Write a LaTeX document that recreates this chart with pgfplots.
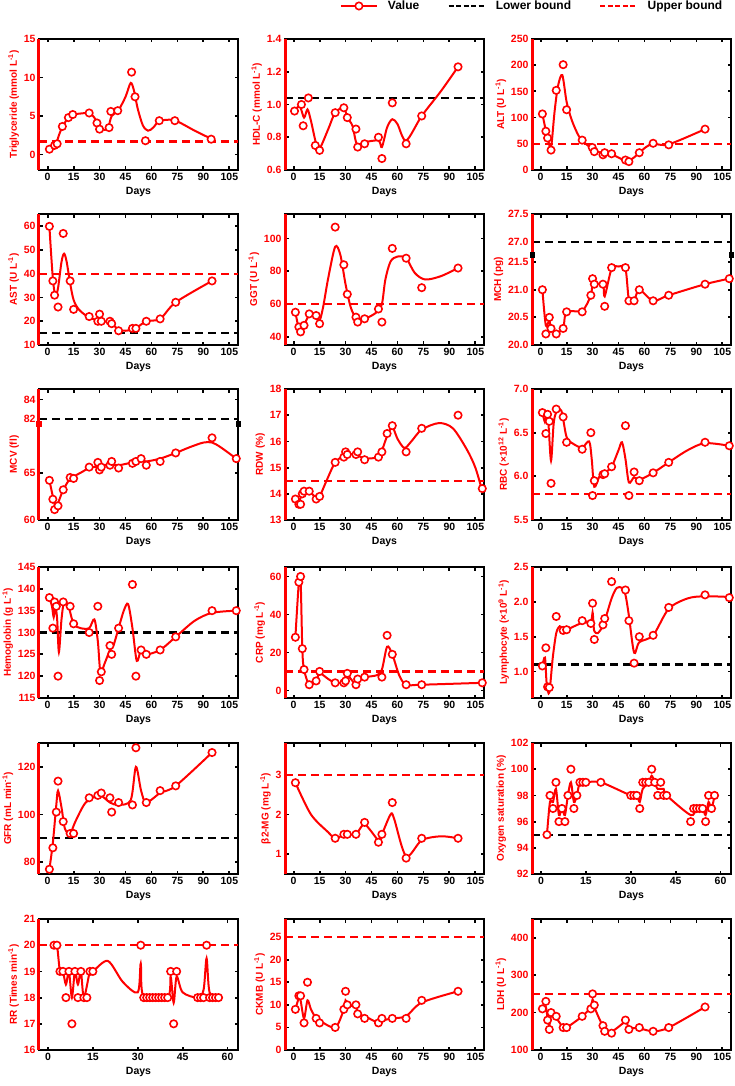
\documentclass[border=0pt]{standalone}
\usepackage{pgfplots}
\pgfplotsset{compat=1.18}
\usepackage{fontspec}
\setmainfont{Liberation Sans}
\newcommand\redspine{\draw[red, line width=3pt] (rel axis cs:0,0) -- (rel axis cs:0,1);}
\pgfplotsset{
  panel/.style={scale only axis, width=199pt, height=131pt, anchor=north west, clip=false,
    xmin=-5, xmax=110, xtick={0,15,30,45,60,75,90,105}, xticklabels={0,15,30,45,60,75,90,105},
    tick align=inside, major tick length=3.5pt,
    every tick/.style={black, line width=1.8pt},
    axis line style={black, line width=2pt},
    tick label style={font=\bfseries\fontsize{10.5}{12}\selectfont},
    yticklabel style={red}, xticklabel style={black},
    xlabel={Days}, xlabel style={font=\bfseries\fontsize{10.5}{12}\selectfont, black, yshift=1pt},
    ylabel style={font=\bfseries\fontsize{10}{12}\selectfont, red, yshift=-2pt},
  },
  val/.style={red, line width=2pt, smooth, no markers},
  pts/.style={red, only marks, mark=*, mark size=3.7pt, mark options={line width=1.6pt, fill=white, draw=red, solid}},
  lowb/.style={black, line width=2.2pt, dash pattern=on 8pt off 5pt, no markers},
  upb/.style={red, line width=2.2pt, dash pattern=on 8pt off 5pt, no markers},
}
\begin{document}
\begin{tikzpicture}
% ---------- Row 1 ----------
\begin{axis}[panel, at={(39pt,-39pt)}, ymin=-2, ymax=15, ytick={0,5,10,15}, yticklabels={0,5,10,15},
  ylabel={Triglyceride (mmol L\textsuperscript{-1})}]
\addplot[upb] coordinates {(-5,1.7) (110,1.7)};
\addplot[val] coordinates {(1,0.7) (3,1.0) (5,1.5) (6.5,2.5) (8.5,3.6) (12,4.8) (15,5.2) (20,5.35) (24,5.4) (27,4.8) (30,3.5) (33,3.2) (35,3.5) (37,5.0) (41,5.8) (45,7.5) (48,9.3) (50,8.2) (52,6) (55,3.8) (58,3.1) (61,3.5) (64,4.3) (68,4.5) (74,4.4) (85,3.1) (95,2.0)};
\addplot[pts] coordinates {(1,0.7) (4,1.2) (5.5,1.4) (8.5,3.65) (12,4.8) (14.5,5.2) (24,5.4) (28.5,4.1) (30,3.3) (35.5,3.5) (36.5,5.6) (40.5,5.7) (48.5,10.7) (50.5,7.5) (56.5,1.8) (64.5,4.4) (73.5,4.4) (94.5,2.0)};
\redspine
\end{axis}

\begin{axis}[panel, at={(285pt,-39pt)}, ymin=0.6, ymax=1.4, ytick={0.6,0.8,1.0,1.2,1.4}, yticklabels={0.6,0.8,1.0,1.2,1.4},
  ylabel={HDL-C (mmol L\textsuperscript{-1})},
  legend style={at={(0.26,1.252)}, anchor=west, draw=none, fill=none, font=\bfseries\fontsize{12}{14}\selectfont, legend columns=3,
    /tikz/every odd column/.append style={column sep=8pt},
    /tikz/every even column/.append style={column sep=26pt}},
  legend image code/.code={\draw[mark repeat=2,mark phase=2] plot coordinates {(0pt,0pt) (18pt,0pt) (36pt,0pt)};}]
\addlegendimage{red, line width=2pt, mark=*, mark size=3.7pt, mark options={line width=1.6pt, fill=white, draw=red}}
\addlegendentry{Value}
\addlegendimage{black, line width=2.5pt, dash pattern=on 5pt off 2.5pt}
\addlegendentry{Lower bound}
\addlegendimage{red, line width=2.5pt, dash pattern=on 5pt off 2.5pt}
\addlegendentry{Upper bound}
\addplot[lowb, forget plot] coordinates {(-5,1.04) (110,1.04)};
\addplot[val, forget plot] coordinates {(0.5,0.96) (3.5,0.99) (6,0.92) (8,0.97) (10,0.9) (13,0.76) (15,0.73) (20,0.85) (24,0.95) (29,0.98) (31,0.92) (34,0.87) (36.5,0.76) (41,0.77) (49,0.78) (51,0.74) (54,0.86) (57,0.91) (60,0.88) (65,0.78) (74,0.93) (85,1.08) (95,1.23)};
\addplot[pts, forget plot] coordinates {(0.5,0.96) (4.5,1.0) (5.5,0.87) (8.5,1.04) (12.5,0.75) (15,0.72) (24,0.95) (29,0.98) (31,0.92) (36,0.85) (37,0.74) (41,0.76) (49,0.80) (51,0.67) (57,1.01) (65,0.76) (74,0.93) (95,1.23)};
\redspine
\end{axis}

\begin{axis}[panel, at={(532pt,-39pt)}, ymin=0, ymax=250, ytick={0,50,100,150,200,250}, yticklabels={0,50,100,150,200,250},
  ylabel={ALT (U L\textsuperscript{-1})}]
\addplot[upb] coordinates {(-5,50) (110,50)};
\addplot[val] coordinates {(1,107) (3,75) (4.5,55) (6,42) (8,110) (10,160) (12.5,181) (15,130) (18,95) (22,65) (26,50) (29,43) (33,35) (37,31) (41,30) (46,22) (49,18) (51,18) (54,24) (57,33) (61,44) (65,50) (74,49) (95,78)};
\addplot[pts] coordinates {(1,107) (3,74) (4,61) (6,38) (9,152) (13,201) (15,115) (24,57) (29.8,43) (31,35) (36,29) (37,33) (41,31) (49,19) (51,16) (57,33) (65,51) (74,48) (95,78)};
\redspine
\end{axis}

% ---------- Row 2 ----------
\begin{axis}[panel, at={(39pt,-214pt)}, ymin=10, ymax=65.2, ytick={10,20,30,40,50,60}, yticklabels={10,20,30,40,50,60},
  ylabel={AST (U L\textsuperscript{-1})}]
\addplot[lowb] coordinates {(-5,15) (110,15)};
\addplot[upb] coordinates {(-5,40) (110,40)};
\addplot[val] coordinates {(1,60) (3,38) (4.5,31) (6,34) (8,45) (9.5,48.5) (11,45) (13,36) (15,29) (18,25) (23,22) (28,20.5) (31,20) (36,19.5) (41,16.5) (45,16) (49,16.5) (51,17) (57,20) (65,21) (74,28) (95,37)};
\addplot[pts] coordinates {(1,60) (3,37) (4,31) (6,26) (9,57) (13,37) (15,25) (24,22) (29,20) (30,23) (31,20) (36,20) (37,19) (41,16) (49,17) (51,17) (57,20) (65,21) (74,28) (95,37)};
\redspine
\end{axis}

\begin{axis}[panel, at={(285pt,-214pt)}, ymin=35, ymax=115, ytick={40,60,80,100}, yticklabels={40,60,80,100},
  ylabel={GGT (U L\textsuperscript{-1})}]
\addplot[upb] coordinates {(-5,60) (110,60)};
\addplot[val] coordinates {(1,55) (3,45) (4.5,44) (6,47) (9,53) (13,52) (15,50) (17,58) (20,76) (24,95) (27,90) (30,72) (33,58) (36,52) (41,51) (48,55) (51,60) (53,75) (56,86) (60,89) (65,88) (70,79) (76,75) (85,77) (95,82)};
\addplot[pts] coordinates {(1,55) (3,46) (4,43) (6,47) (9,54) (13,53) (15,48) (24,107) (29,84) (31,66) (36,52) (37,49) (41,51) (49,57) (51,49) (57,94) (65,88) (74,70) (95,82)};
\redspine
\end{axis}

\begin{axis}[panel, at={(532pt,-214pt)}, ymin=20, ymax=22.37, ytick={20,20.5,21,21.5,21.87,22.37}, yticklabels={20.0,20.5,21.0,21.5,27.0,27.5},
  ylabel={MCH (pg)}]
\addplot[lowb] coordinates {(-5,21.87) (110,21.87)};
\addplot[val] coordinates {(1,21.0) (3,20.35) (5,20.45) (6,20.3) (9,20.22) (13,20.3) (15,20.6) (24,20.62) (29,20.9) (30,21.15) (31,21.1) (36,21.1) (37,20.88) (41,21.38) (45,21.42) (49,21.38) (51,20.82) (54,20.8) (57,21.0) (65,20.8) (74,20.9) (95,21.1) (109,21.2)};
\addplot[pts] coordinates {(1,21.0) (3,20.2) (5,20.5) (6,20.3) (9,20.2) (13,20.3) (15,20.6) (24,20.6) (29,20.9) (30,21.2) (31,21.1) (36,21.1) (37,20.7) (41,21.4) (49,21.4) (51,20.8) (54,20.8) (57,21.0) (65,20.8) (74,20.9) (95,21.1) (109,21.2)};
\redspine
\fill[black] (rel axis cs:0,0.688) +(-2.5pt,-3pt) rectangle +(2.5pt,3pt);
\fill[black] (rel axis cs:1,0.688) +(-2.5pt,-3pt) rectangle +(2.5pt,3pt);
\end{axis}

% ---------- Row 3 ----------
\begin{axis}[panel, at={(39pt,-389pt)}, ymin=60, ymax=73.87, ytick={60,65,70.7,72.75}, yticklabels={60,65,82,84},
  ylabel={MCV (fl)}]
\addplot[lowb] coordinates {(-5,70.7) (110,70.7)};
\addplot[val] coordinates {(1,64.2) (3,62.5) (4.5,61.4) (6,61.8) (9,63.2) (13,64.4) (15,64.6) (20,65.1) (24,65.5) (30,65.7) (36,65.9) (41,65.8) (49,66.1) (54,66.3) (57,66.2) (65,66.5) (74,67.1) (82,67.7) (90,68.2) (95,68.2) (100,67.7) (109,66.5)};
\addplot[pts] coordinates {(1,64.2) (3,62.2) (4,61.1) (6,61.5) (9,63.2) (13,64.5) (15,64.4) (24,65.6) (29,66.1) (30,65.3) (31,65.6) (36,65.8) (37,66.2) (41,65.5) (49,66.0) (51,66.2) (54,66.5) (57,65.8) (65,66.2) (74,67.1) (95,68.7) (109,66.5)};
\redspine
\fill[red] (rel axis cs:0,0.736) +(-3pt,-3pt) rectangle +(3pt,3pt);
\fill[black] (rel axis cs:1,0.736) +(-2.5pt,-3pt) rectangle +(2.5pt,3pt);
\end{axis}

\begin{axis}[panel, at={(285pt,-389pt)}, ymin=13, ymax=18, ytick={13,14,15,16,17,18}, yticklabels={13,14,15,16,17,18},
  ylabel={RDW (\%)}]
\addplot[upb] coordinates {(-5,14.5) (110,14.5)};
\addplot[val] coordinates {(1,13.8) (3,13.7) (5,14.0) (7,14.1) (9,14.1) (13,13.85) (15,13.9) (19,14.5) (24,15.2) (29,15.45) (31,15.5) (36,15.5) (41,15.35) (49,15.4) (51,15.65) (54,16.2) (57,16.55) (60,16.1) (64,15.75) (68,16.0) (74,16.45) (84,16.7) (92,16.5) (100,15.7) (105,15.0) (109,14.1)};
\addplot[pts] coordinates {(1,13.8) (3,13.6) (4,13.6) (5,14.0) (6,14.1) (9,14.1) (13,13.8) (15,13.9) (24,15.2) (29,15.4) (30,15.6) (31,15.5) (36,15.5) (37,15.6) (41,15.3) (49,15.4) (51,15.6) (54,16.3) (57,16.6) (65,15.6) (74,16.5) (95,17.0) (109,14.2)};
\redspine
\end{axis}

\begin{axis}[panel, at={(532pt,-389pt)}, ymin=5.5, ymax=7.0, ytick={5.5,6.0,6.5,7.0}, yticklabels={5.5,6.0,6.5,7.0},
  ylabel={RBC (×10\textsuperscript{12} L\textsuperscript{-1})}]
\addplot[upb] coordinates {(-5,5.8) (110,5.8)};
\addplot[val] coordinates {(1,6.73) (2.5,6.62) (3.5,6.7) (4.5,6.6) (6,6.18) (7.5,6.6) (9,6.73) (12,6.75) (15,6.45) (19,6.37) (24,6.33) (28,6.4) (29.5,6.2) (31,5.88) (34,6.0) (37,6.04) (41,6.11) (45,6.3) (47,6.39) (49,6.2) (51,5.93) (54,5.99) (57,5.96) (65,6.04) (74,6.16) (85,6.3) (95,6.38) (109,6.35)};
\addplot[pts] coordinates {(1,6.73) (3,6.49) (4,6.71) (5,6.63) (6,5.92) (9,6.77) (13,6.68) (15,6.39) (24,6.31) (29,6.5) (30,5.78) (31,5.95) (36,6.02) (37,6.03) (41,6.11) (49,6.58) (51,5.78) (54,6.05) (57,5.95) (65,6.04) (74,6.16) (95,6.39) (109,6.35)};
\redspine
\end{axis}

% ---------- Row 4 ----------
\begin{axis}[panel, at={(39pt,-567pt)}, ymin=115, ymax=145, ytick={115,120,...,145}, yticklabels={115,120,125,130,135,140,145},
  ylabel={Hemoglobin (g L\textsuperscript{-1})}]
\addplot[lowb] coordinates {(-5,130) (110,130)};
\addplot[val] coordinates {(1,138) (2.5,136) (3.5,133.5) (4.5,136) (5.5,133) (6.5,125.5) (8,133) (9.5,137) (12,136) (15,132) (19,131) (24,131) (27,133) (29,128) (30.5,121) (33,123) (36,126) (38,127) (41,131) (44,135) (46.5,136.5) (49,131) (51.5,123.5) (54,126) (57,125) (65,126) (74,129) (85,132.7) (95,134.5) (109,135)};
\addplot[pts] coordinates {(1,138) (3,131) (4,137) (5,136) (6,120) (9,137) (13,136) (15,132) (24,130) (29,136) (30,119) (31,121) (36,127) (37,125) (41,131) (49,141) (51,120) (54,126) (57,125) (65,126) (74,129) (95,135) (109,135)};
\redspine
\end{axis}

\begin{axis}[panel, at={(285pt,-567pt)}, ymin=-4, ymax=65, ytick={0,20,40,60}, yticklabels={0,20,40,60},
  ylabel={CRP (mg L\textsuperscript{-1})}]
\addplot[upb] coordinates {(-5,10) (110,10)};
\addplot[val] coordinates {(1,28) (3,57) (4,59) (5,22) (6,11) (9,3) (13,5) (15,9) (20,6) (24,4) (29,4) (30,5) (31,8) (34,5) (36,3.5) (37,6) (41,7) (48,8) (51,11) (54,23) (57,19) (61,8) (65,3) (74,3) (109,4)};
\addplot[pts] coordinates {(1,28) (3,57) (4,60) (5,22) (6,11) (9,3) (13,5) (15,10) (24,4) (29,4) (30,5) (31,9) (36,3) (37,6) (41,7) (51,7) (54,29) (57,19) (65,3) (74,3) (109,4)};
\redspine
\end{axis}

\begin{axis}[panel, at={(532pt,-567pt)}, ymin=0.62, ymax=2.5, ytick={1.0,1.5,2.0,2.5}, yticklabels={1.0,1.5,2.0,2.5},
  ylabel={Lymphocyte (×10\textsuperscript{9} L\textsuperscript{-1})}]
\addplot[lowb] coordinates {(-5,1.1) (110,1.1)};
\addplot[val] coordinates {(1,1.08) (2.5,1.2) (3.5,0.82) (5,0.7) (7,1.2) (9,1.55) (11,1.65) (13,1.6) (15,1.6) (24,1.7) (29,1.72) (30,1.85) (30.5,1.7) (31,1.58) (33,1.55) (36,1.65) (37,1.72) (41,2.05) (44,2.2) (47,2.2) (49,2.1) (51,1.8) (54,1.27) (57,1.42) (65,1.52) (74,1.9) (85,2.05) (95,2.08) (109,2.07)};
\addplot[pts] coordinates {(1,1.08) (3,1.34) (4,0.78) (5,0.77) (9,1.79) (13,1.59) (15,1.6) (24,1.73) (29,1.69) (30,1.98) (31,1.46) (36,1.67) (37,1.76) (41,2.29) (49,2.17) (51,1.73) (54,1.12) (57,1.5) (65,1.52) (74,1.92) (95,2.1) (109,2.06)};
\redspine
\end{axis}

% ---------- Row 5 ----------
\begin{axis}[panel, at={(39pt,-743pt)}, ymin=75, ymax=130, ytick={80,100,120}, yticklabels={80,100,120},
  ylabel={GFR (mL min\textsuperscript{-1})}]
\addplot[lowb] coordinates {(-5,90) (110,90)};
\addplot[val] coordinates {(1,77) (3,88) (5,104) (6,110) (8,103) (10,94) (13,92) (16,97) (22,105) (30,108) (36,105) (41,104) (48,106) (51,120) (54,110) (57,105) (65,109) (74,112) (95,126)};
\addplot[pts] coordinates {(1,77) (3,86) (5,101) (6,114) (9,97) (13,92) (15,92) (24,107) (29,108) (31,109) (36,107) (37,101) (41,105) (49,104) (51,128) (57,105) (65,110) (74,112) (95,126)};
\redspine
\end{axis}

\begin{axis}[panel, at={(285pt,-743pt)}, ymin=0.5, ymax=3.8, ytick={1,2,3}, yticklabels={1,2,3},
  ylabel={β2-MG (mg L\textsuperscript{-1})}]
\addplot[upb] coordinates {(-5,3) (110,3)};
\addplot[val] coordinates {(1,2.8) (10,2.0) (20,1.55) (24,1.4) (30,1.5) (36,1.5) (41,1.75) (49,1.35) (51,1.5) (56,2.0) (58,1.9) (65,0.95) (74,1.35) (85,1.45) (95,1.4)};
\addplot[pts] coordinates {(1,2.8) (24,1.4) (29,1.5) (31,1.5) (36,1.5) (41,1.8) (49,1.3) (51,1.5) (57,2.3) (65,0.9) (74,1.4) (95,1.4)};
\redspine
\end{axis}

\begin{axis}[panel, at={(532pt,-743pt)}, xmin=-3, xmax=63.5, xtick={0,15,30,45,60}, xticklabels={0,15,30,45,60},
  ymin=92, ymax=102, ytick={92,94,...,102}, yticklabels={92,94,96,98,100,102},
  ylabel={Oxygen saturation (\%)}]
\addplot[lowb] coordinates {(-3,95) (63.5,95)};
\addplot[val] coordinates {(2,95) (3,97.5) (4,97.5) (5,98.5) (6,96.5) (7,97) (8,96.5) (9,98) (10,99) (11,97.5) (12,98) (13,99) (15,99) (20,99) (30,98) (32,98) (33,97.5) (34,98.5) (36,99) (37,99.5) (38,99) (39,98.5) (41,98.5) (42,98) (50,96.5) (52,97) (54,97) (55,96.5) (56,97.5) (57,97) (58,98)};
\addplot[pts] coordinates {(2,95) (3,98) (4,97) (5,99) (6,96) (7,97) (8,96) (9,98) (10,100) (11,97) (12,98) (13,99) (14,99) (15,99) (20,99) (30,98) (31,98) (32,98) (33,97) (34,99) (35,99) (36,99) (37,100) (38,99) (39,98) (40,99) (41,98) (42,98) (50,96) (51,97) (52,97) (53,97) (54,97) (55,96) (56,98) (57,97) (58,98)};
\redspine
\end{axis}

% ---------- Row 6 ----------
\begin{axis}[panel, at={(39pt,-919pt)}, xmin=-3, xmax=63.5, xtick={0,15,30,45,60}, xticklabels={0,15,30,45,60},
  ymin=16, ymax=21, ytick={16,17,...,21}, yticklabels={16,17,18,19,20,21},
  ylabel={RR (Times min\textsuperscript{-1})}]
\addplot[upb] coordinates {(-3,20) (63.5,20)};
\addplot[val] coordinates {(2,20) (3,20) (4,19) (5,19) (6,18.5) (7,19) (8,18) (9,19) (10,18.5) (11,19) (12,18) (14,19) (15,19) (20,19.4) (25,18.6) (30,18.2) (31,19.3) (32,18) (40,18) (41,18.8) (42,17.8) (43,18.8) (45,18.2) (50,18) (52,18.3) (53,19.5) (54,18.2) (57,18)};
\addplot[pts] coordinates {(2,20) (3,20) (4,19) (5,19) (6,18) (7,19) (8,17) (9,19) (10,18) (11,19) (12,18) (13,18) (14,19) (15,19) (31,20) (32,18) (33,18) (34,18) (35,18) (36,18) (37,18) (38,18) (39,18) (40,18) (41,19) (42,17) (43,19) (50,18) (51,18) (52,18) (53,20) (54,18) (55,18) (56,18) (57,18)};
\redspine
\end{axis}

\begin{axis}[panel, at={(285pt,-919pt)}, ymin=0, ymax=29, ytick={0,5,...,25}, yticklabels={0,5,10,15,20,25},
  ylabel={CKMB (U L\textsuperscript{-1})}]
\addplot[upb] coordinates {(-5,25) (110,25)};
\addplot[val] coordinates {(1,9) (3,11.5) (4,11) (6,7) (8,11) (10,9) (13,7) (15,6.5) (24,5) (29,9) (30,11) (31,10) (36,9.5) (37,8) (41,7.5) (49,6) (51,6.5) (57,7) (65,7.5) (74,10.5) (95,13)};
\addplot[pts] coordinates {(1,9) (3,12) (4,12) (6,6) (8,15) (13,7) (15,6) (24,5) (29,9) (30,13) (31,10) (36,10) (37,8) (41,7) (49,6) (51,7) (57,7) (65,7) (74,11) (95,13)};
\redspine
\end{axis}

\begin{axis}[panel, at={(532pt,-919pt)}, ymin=100, ymax=450, ytick={100,200,300,400}, yticklabels={100,200,300,400},
  ylabel={LDH (U L\textsuperscript{-1})}]
\addplot[upb] coordinates {(-5,250) (110,250)};
\addplot[val] coordinates {(1,210) (3,215) (4,185) (5,165) (6,190) (9,185) (13,160) (15,160) (24,190) (29,215) (30,235) (31,215) (36,165) (41,150) (49,175) (51,160) (57,158) (65,150) (74,160) (95,215)};
\addplot[pts] coordinates {(1,210) (3,230) (4,180) (5,155) (6,200) (9,190) (13,160) (15,160) (24,190) (29,210) (30,250) (31,220) (36,165) (37,150) (41,145) (49,180) (51,155) (57,160) (65,150) (74,160) (95,215)};
\redspine
\end{axis}
\pgfresetboundingbox
\useasboundingbox (0,0) rectangle (735pt,-1086pt);
\end{tikzpicture}
\end{document}
